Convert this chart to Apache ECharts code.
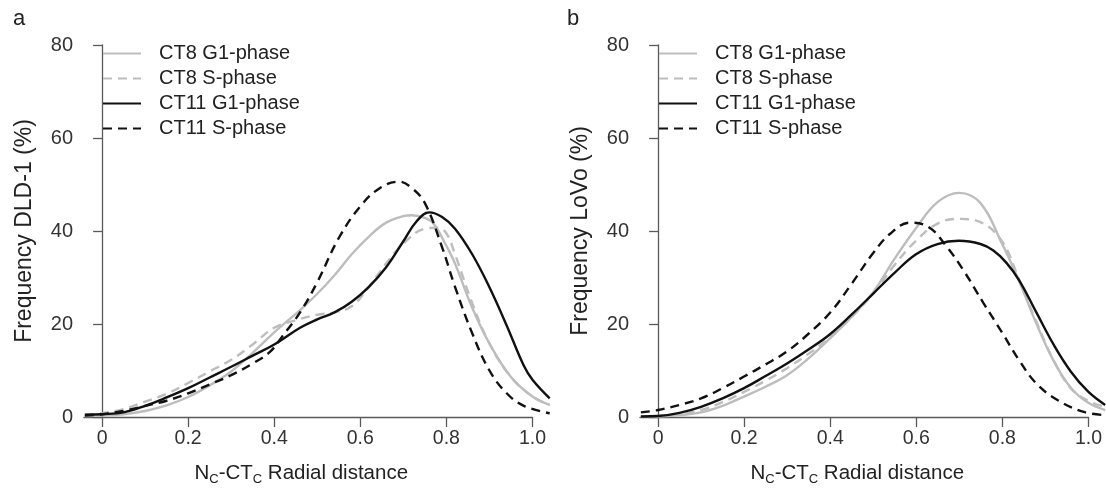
<!DOCTYPE html>
<html><head><meta charset="utf-8">
<script src="https://cdn.jsdelivr.net/npm/echarts@6/dist/echarts.min.js"></script>
<style>html,body{margin:0;padding:0;background:#fff}#c{width:1106px;height:498px}</style>
</head><body><div id="c"></div>
<script>
const seriesNames = ['CT8 G1-phase', 'CT8 S-phase', 'CT11 G1-phase', 'CT11 S-phase'];
const panelLabels = ['a', 'b'];
const yAxisNames = ['Frequency DLD-1 (%)', 'Frequency LoVo (%)'];
const xTicks = [0, 0.2, 0.4, 0.6, 0.8, 1.0];
const xTickLabels = ['0', '0.2', '0.4', '0.6', '0.8', '1.0'];

// Panel a (DLD-1)
const a_ct8g1_x = [-0.04, 0, 0.05, 0.1, 0.15, 0.2, 0.25, 0.3, 0.35, 0.4, 0.46, 0.5, 0.54, 0.58, 0.62, 0.66, 0.7, 0.72, 0.75, 0.77, 0.8, 0.82, 0.86, 0.9, 0.95, 1.0, 1.04];
const a_ct8g1_y = [0.2, 0.3, 0.6, 1.3, 2.5, 4.3, 6.8, 9.8, 13.8, 18.2, 23, 26.5, 30.5, 35, 38.8, 41.8, 43.2, 43.4, 42.8, 41.6, 36.8, 33, 23.5, 15.8, 8.6, 4.4, 2.6];
const a_ct8s_x = [-0.04, 0, 0.05, 0.1, 0.15, 0.2, 0.25, 0.3, 0.35, 0.4, 0.45, 0.5, 0.54, 0.58, 0.62, 0.66, 0.7, 0.75, 0.78, 0.8, 0.82, 0.86, 0.9, 0.95, 1.0, 1.04];
const a_ct8s_y = [0.5, 0.8, 1.7, 3.3, 5, 7.3, 9.8, 12.3, 15.6, 19.2, 20.8, 22, 22.5, 23.8, 28, 33, 37.3, 40.5, 40.7, 39.5, 35, 24.5, 15.8, 8.6, 4.4, 2.6];
const a_ct11g1_x = [-0.04, 0, 0.05, 0.1, 0.15, 0.2, 0.25, 0.3, 0.35, 0.4, 0.46, 0.5, 0.54, 0.58, 0.62, 0.66, 0.7, 0.73, 0.76, 0.79, 0.82, 0.86, 0.9, 0.94, 0.98, 1.0, 1.04];
const a_ct11g1_y = [0.5, 0.6, 1.0, 2.4, 4.2, 6.2, 8.5, 10.8, 13.2, 15.6, 19.2, 21, 22.5, 24.8, 28, 32.2, 37.8, 42, 44, 43, 40.5, 35, 27.9, 19.7, 11, 8, 4];
const a_ct11s_x = [-0.04, 0, 0.05, 0.1, 0.15, 0.2, 0.25, 0.3, 0.35, 0.39, 0.42, 0.46, 0.5, 0.55, 0.6, 0.645, 0.69, 0.72, 0.75, 0.79, 0.82, 0.86, 0.9, 0.94, 0.98, 1.04];
const a_ct11s_y = [0.3, 0.6, 1.3, 2.4, 3.5, 5.1, 7, 9, 11.5, 14, 17.5, 22.5, 29, 38.5, 45.3, 49.2, 50.6, 49.2, 46, 36.5, 28, 18, 10, 5.1, 2.4, 0.8];

// Panel b (LoVo)
const b_ct8g1_x = [-0.04, 0, 0.05, 0.1, 0.15, 0.2, 0.25, 0.3, 0.35, 0.4, 0.45, 0.5, 0.55, 0.6, 0.65, 0.7, 0.75, 0.8, 0.84, 0.88, 0.92, 0.96, 1.0, 1.04];
const b_ct8g1_y = [0, 0.1, 0.4, 1.0, 2.4, 4.4, 6.5, 9.0, 12.6, 16.9, 21.5, 26.8, 34, 40.6, 46.2, 48.2, 46, 37.3, 29.2, 20.1, 12.1, 6.3, 3.1, 1.5];
const b_ct8s_x = [-0.04, 0, 0.05, 0.1, 0.15, 0.2, 0.25, 0.3, 0.35, 0.4, 0.45, 0.5, 0.55, 0.6, 0.65, 0.7, 0.75, 0.8, 0.84, 0.88, 0.92, 0.96, 1.0, 1.04];
const b_ct8s_y = [0, 0.2, 0.6, 1.5, 3.2, 5.4, 7.8, 10.5, 13.6, 17.1, 21.5, 26.5, 32.7, 37.9, 41.6, 42.6, 41.9, 37.8, 29.5, 20.5, 12.2, 6.2, 3.5, 2.2];
const b_ct11g1_x = [-0.04, 0, 0.05, 0.1, 0.15, 0.2, 0.25, 0.3, 0.35, 0.4, 0.45, 0.5, 0.55, 0.6, 0.65, 0.7, 0.75, 0.78, 0.81, 0.84, 0.88, 0.92, 0.96, 1.0, 1.04];
const b_ct11g1_y = [0.1, 0.2, 0.9, 2.2, 4.0, 6.2, 8.8, 11.5, 14.5, 17.8, 22, 26.5, 31, 35, 37.2, 37.9, 37.2, 35.8, 33.2, 29.4, 22.5, 15.6, 9.8, 5.5, 2.6];
const b_ct11s_x = [-0.04, 0, 0.05, 0.1, 0.15, 0.2, 0.25, 0.3, 0.35, 0.4, 0.45, 0.5, 0.54, 0.586, 0.63, 0.67, 0.71, 0.757, 0.8, 0.84, 0.88, 0.93, 0.99, 1.04];
const b_ct11s_y = [1.0, 1.5, 2.6, 4.0, 6.2, 8.7, 11.3, 14.1, 17.9, 22.4, 28.6, 35.2, 39.4, 41.8, 40.8, 36.8, 31.6, 24.5, 18.2, 12.2, 7.2, 3.6, 1.1, 0.4];

const panelData = [
  [[a_ct8g1_x, a_ct8g1_y], [a_ct8s_x, a_ct8s_y], [a_ct11g1_x, a_ct11g1_y], [a_ct11s_x, a_ct11s_y]],
  [[b_ct8g1_x, b_ct8g1_y], [b_ct8s_x, b_ct8s_y], [b_ct11g1_x, b_ct11g1_y], [b_ct11s_x, b_ct11s_y]]
];

const FONT = "'Liberation Sans', Arial, sans-serif";
const lineColors = ['#bdbdbd', '#bdbdbd', '#111111', '#111111'];
const lineTypes = ['solid', [9, 6], 'solid', [9, 6]];
const gridLefts = [84, 640];
const axisColor = '#5a5a5a';
const X_MIN = -0.042, X_AXIS_MAX = 1.0, X_DATA_MAX = 1.042;
const PX_PER_UNIT = 430.4;

const zip = (xs, ys) => xs.map((x, i) => [x, ys[i]]);

const grids = [], xAxes = [], yAxes = [], series = [], legends = [], titles = [];
for (let p = 0; p < 2; p++) {
  // display grid (axes end at x = 1.0)
  grids.push({ left: gridLefts[p], top: 45, width: (X_AXIS_MAX - X_MIN) * PX_PER_UNIT, height: 372 });
  // data grid (curves run a little past 1.0)
  grids.push({ left: gridLefts[p], top: 45, width: (X_DATA_MAX - X_MIN) * PX_PER_UNIT, height: 372 });
  xAxes.push({
    type: 'value', gridIndex: 2 * p, min: X_MIN, max: X_AXIS_MAX,
    name: 'N{sub|C}-CT{sub|C} Radial distance',
    nameLocation: 'middle', nameGap: 44,
    nameTextStyle: {
      fontFamily: FONT, fontSize: 20.5, color: '#222', padding: [0, 14, 0, 0],
      rich: { sub: { fontFamily: FONT, fontSize: 13, color: '#222', verticalAlign: 'bottom', padding: [12, 0, 0, 0] } }
    },
    axisLine: { show: true, onZero: false, lineStyle: { color: axisColor, width: 1.3 } },
    axisTick: { show: true, customValues: xTicks, length: 10, lineStyle: { color: axisColor, width: 1.3 } },
    axisLabel: {
      customValues: xTicks, margin: 12, fontFamily: FONT, fontSize: 19.5, color: '#333',
      formatter: v => { const i = xTicks.findIndex(t => Math.abs(t - v) < 1e-9); return i >= 0 ? xTickLabels[i] : ''; }
    },
    splitLine: { show: false }
  });
  xAxes.push({ type: 'value', gridIndex: 2 * p + 1, min: X_MIN, max: X_DATA_MAX, show: false, splitLine: { show: false } });
  yAxes.push({
    type: 'value', gridIndex: 2 * p, min: 0, max: 80, interval: 20,
    name: yAxisNames[p], nameLocation: 'middle', nameGap: 48, nameRotate: 90,
    nameTextStyle: { fontFamily: FONT, fontSize: 23, color: '#222' },
    axisLine: { show: true, lineStyle: { color: axisColor, width: 1.3 } },
    axisTick: { show: true, length: 9, lineStyle: { color: axisColor, width: 1.3 } },
    axisLabel: { margin: 11, fontFamily: FONT, fontSize: 20, color: '#333' },
    splitLine: { show: false }
  });
  yAxes.push({ type: 'value', gridIndex: 2 * p + 1, min: 0, max: 80, show: false, splitLine: { show: false } });
  for (let s = 0; s < 4; s++) {
    const [xs, ys] = panelData[p][s];
    series.push({
      type: 'line', name: seriesNames[s], xAxisIndex: 2 * p + 1, yAxisIndex: 2 * p + 1,
      data: zip(xs, ys), smooth: 0.4,
      showSymbol: false, symbol: 'none', symbolSize: 0, silent: true,
      lineStyle: { color: lineColors[s], width: 2.4, type: lineTypes[s] },
      itemStyle: { color: lineColors[s] },
      z: s === 3 ? 5 : (s === 2 ? 4 : 3)
    });
  }
  legends.push({
    data: seriesNames, orient: 'vertical', left: gridLefts[p] + 18, top: 43.5, padding: 0,
    itemWidth: 38, itemHeight: 14, itemGap: 5.0, selectedMode: false,
    itemStyle: { opacity: 0 },
    textStyle: { fontFamily: FONT, fontSize: 20, color: '#222', lineHeight: 20, padding: [0, 0, 0, 13] }
  });
  titles.push({
    text: panelLabels[p], left: p === 0 ? 8 : 562, top: 3, padding: 5,
    textStyle: { fontFamily: FONT, fontSize: 22, fontWeight: 'normal', color: '#222' }
  });
}

const chart = echarts.init(document.getElementById('c'), null, { renderer: 'canvas' });
chart.setOption({
  animation: false,
  backgroundColor: '#fff',
  title: titles, grid: grids, xAxis: xAxes, yAxis: yAxes, legend: legends, series: series
});
</script></body></html>
